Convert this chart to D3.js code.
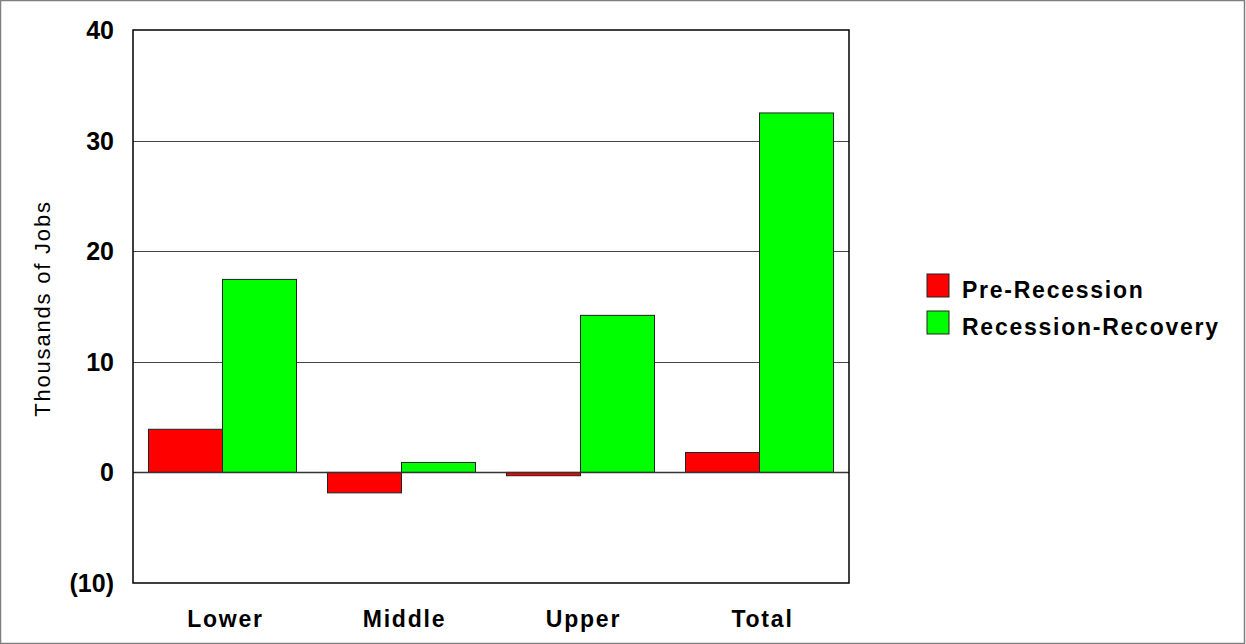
<!DOCTYPE html>
<html>
<head>
<meta charset="utf-8">
<script src="https://cdn.jsdelivr.net/npm/d3@7"></script>
<style>
  html, body { margin: 0; padding: 0; background: #fff; }
  svg { display: block; }
  text { font-family: "Liberation Sans", Arial, sans-serif; fill: #000; }
</style>
</head>
<body>
<svg id="chart" width="1246" height="644"></svg>
<script>
const categories = ["Lower", "Middle", "Upper", "Total"];
const seriesNames = ["Pre-Recession", "Recession-Recovery"];
const preRecession = [3.9, -1.85, -0.3, 1.8];
const recessionRecovery = [17.45, 0.9, 14.2, 32.5];
const yTicks = [-10, 0, 10, 20, 30, 40];
const yTickLabels = ["(10)", "0", "10", "20", "30", "40"];
const colors = ["#ff0000", "#00ff00"];

const svg = d3.select("#chart");
const W = 1246, H = 644;
const m = { left: 133, right: 849, top: 30, bottom: 583 };

// outer frame
svg.append("rect").attr("x", 0.5).attr("y", 0.5).attr("width", W - 2).attr("height", H - 1)
  .attr("fill", "#fff").attr("stroke", "#7f7f7f").attr("stroke-width", 1.5);

const y = d3.scaleLinear().domain([-10, 40]).range([m.bottom, m.top]);
const x0 = d3.scaleBand().domain(categories).range([m.left, m.right])
  .paddingInner(0.173).paddingOuter(0.0865);
const x1 = d3.scaleBand().domain(seriesNames).range([0, x0.bandwidth()]).padding(0);

// gridlines
svg.append("g").selectAll("line").data(yTicks.filter(t => t > -10 && t < 40)).join("line")
  .attr("x1", m.left).attr("x2", m.right)
  .attr("y1", d => Math.round(y(d)) + 0.5).attr("y2", d => Math.round(y(d)) + 0.5)
  .attr("stroke", "#444").attr("stroke-width", 1);

// bars
const data = categories.map((c, i) => ({ cat: c, vals: [preRecession[i], recessionRecovery[i]] }));
const groups = svg.append("g").selectAll("g").data(data).join("g")
  .attr("transform", d => `translate(${x0(d.cat)},0)`);
groups.selectAll("rect").data(d => d.vals.map((v, j) => ({ v, s: seriesNames[j], j }))).join("rect")
  .attr("x", d => x1(d.s))
  .attr("width", x1.bandwidth())
  .attr("y", d => y(Math.max(0, d.v)))
  .attr("height", d => Math.abs(y(d.v) - y(0)))
  .attr("fill", d => colors[d.j])
  .attr("stroke", "#222").attr("stroke-width", 1);

// zero line
svg.append("line").attr("x1", m.left).attr("x2", m.right)
  .attr("y1", y(0)).attr("y2", y(0)).attr("stroke", "#333").attr("stroke-width", 1.5);

// plot border
svg.append("rect").attr("x", m.left).attr("y", m.top)
  .attr("width", m.right - m.left).attr("height", m.bottom - m.top)
  .attr("fill", "none").attr("stroke", "#000").attr("stroke-width", 1.5);

// y tick labels
svg.append("g").selectAll("text").data(yTicks).join("text")
  .attr("x", 114).attr("y", d => y(d)).attr("dy", "0.36em")
  .attr("text-anchor", "end")
  .style("font-size", "25px").style("font-weight", "bold")
  .text((d, i) => yTickLabels[i]);

// category labels
svg.append("g").selectAll("text").data(categories).join("text")
  .attr("x", d => x0(d) + x0.bandwidth() / 2 + 3)
  .attr("y", 627)
  .attr("text-anchor", "middle")
  .style("font-size", "23px").style("font-weight", "bold").style("letter-spacing", "1.8px")
  .text(d => d);

// y axis title
svg.append("text")
  .attr("transform", `translate(50,${(m.top + m.bottom) / 2 + 2}) rotate(-90)`)
  .attr("text-anchor", "middle")
  .style("font-size", "22px").style("letter-spacing", "1.8px")
  .text("Thousands of Jobs");

// legend
const lg = svg.append("g");
seriesNames.forEach((s, i) => {
  lg.append("rect").attr("x", 927).attr("y", 274 + i * 37).attr("width", 22).attr("height", 23)
    .attr("fill", colors[i]).attr("stroke", "#222").attr("stroke-width", 1);
  lg.append("text").attr("x", 962).attr("y", 298 + i * 37)
    .style("font-size", "23px").style("font-weight", "bold").style("letter-spacing", "1.75px")
    .text(s);
});
</script>
</body>
</html>
